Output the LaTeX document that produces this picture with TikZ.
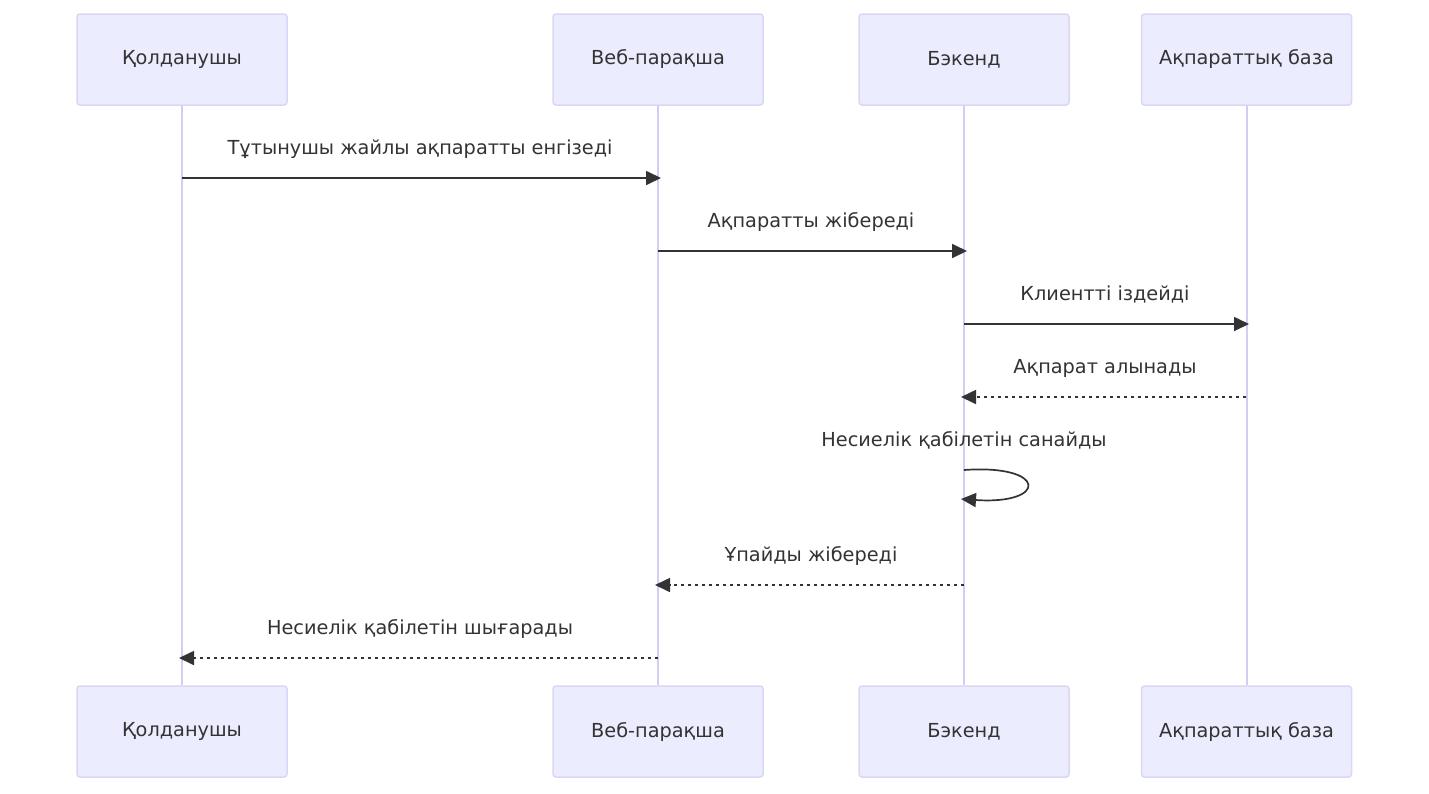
\documentclass[tikz,border=0pt]{standalone}
\usepackage{fontspec}
\setmainfont{DejaVu Sans}
\usetikzlibrary{arrows.meta}
\definecolor{actfill}{HTML}{ECECFF}
\definecolor{actline}{HTML}{DCD6F5}
\definecolor{lifeline}{HTML}{D6CCF3}
\definecolor{msg}{HTML}{333333}
\tikzset{
  actor/.style={draw=actline, line width=1.5pt, fill=actfill, rounded corners=3pt,
    minimum width=210pt, minimum height=91pt, inner sep=0pt, text=msg,
    font=\fontsize{19.3}{22}\selectfont},
  life/.style={draw=lifeline, line width=2pt},
  msgline/.style={draw=msg, line width=1.7pt, -{Triangle[length=15pt,width=14pt]}},
  reply/.style={msgline, dash pattern=on 3.5pt off 3.5pt},
  lbl/.style={text=msg, font=\fontsize{19.3}{22}\selectfont, inner sep=0pt, anchor=base}
}
\begin{document}
\begin{tikzpicture}[x=1pt,y=-1pt]
\useasboundingbox[fill=white] (0,0) rectangle (1429,793);
% top actors
\node[actor] (t1) at (182,59.5) {Қолданушы};
\node[actor] (t2) at (658,59.5) {Веб-парақша};
\node[actor] (t3) at (964,59.5) {Бэкенд};
\node[actor] (t4) at (1246.5,59.5) {Ақпараттық база};
% bottom actors
\node[actor] (b1) at (182,731.5) {Қолданушы};
\node[actor] (b2) at (658,731.5) {Веб-парақша};
\node[actor] (b3) at (964,731.5) {Бэкенд};
\node[actor] (b4) at (1246.5,731.5) {Ақпараттық база};
% lifelines
\draw[life] (t1.south) -- (b1.north);
\draw[life] (t2.south) -- (b2.north);
\draw[life] (t3.south) -- (b3.north);
\draw[life] (t4.south) -- (b4.north);
% message points
\coordinate (m1a) at (182,178); \coordinate (m1b) at (661,178);
\coordinate (m2a) at (658,251); \coordinate (m2b) at (967,251);
\coordinate (m3a) at (964,324); \coordinate (m3b) at (1249,324);
\coordinate (m4a) at (1246,397); \coordinate (m4b) at (961,397);
\coordinate (s5a) at (964,470); \coordinate (s5b) at (961,499);
\coordinate (m6a) at (964,585); \coordinate (m6b) at (655,585);
\coordinate (m7a) at (658,658); \coordinate (m7b) at (179,658);
% messages
\draw[msgline] (m1a) -- (m1b);
\node[lbl] (l1) at (420,154) {Тұтынушы жайлы ақпаратты енгізеді};
\draw[msgline] (m2a) -- (m2b);
\node[lbl] (l2) at (811,227) {Ақпаратты жібереді};
\draw[msgline] (m3a) -- (m3b);
\node[lbl] (l3) at (1105,300) {Клиентті іздейді};
\draw[reply] (m4a) -- (m4b);
\node[lbl] (l4) at (1105,373) {Ақпарат алынады};
\draw[msgline] (s5a) .. controls (1048,464) and (1048,505) .. (s5b);
\node[lbl] (l5) at (964,446) {Несиелік қабілетін санайды};
\draw[reply] (m6a) -- (m6b);
\node[lbl] (l6) at (811,561) {Ұпайды жібереді};
\draw[reply] (m7a) -- (m7b);
\node[lbl] (l7) at (420,634) {Несиелік қабілетін шығарады};
\end{tikzpicture}
\end{document}
